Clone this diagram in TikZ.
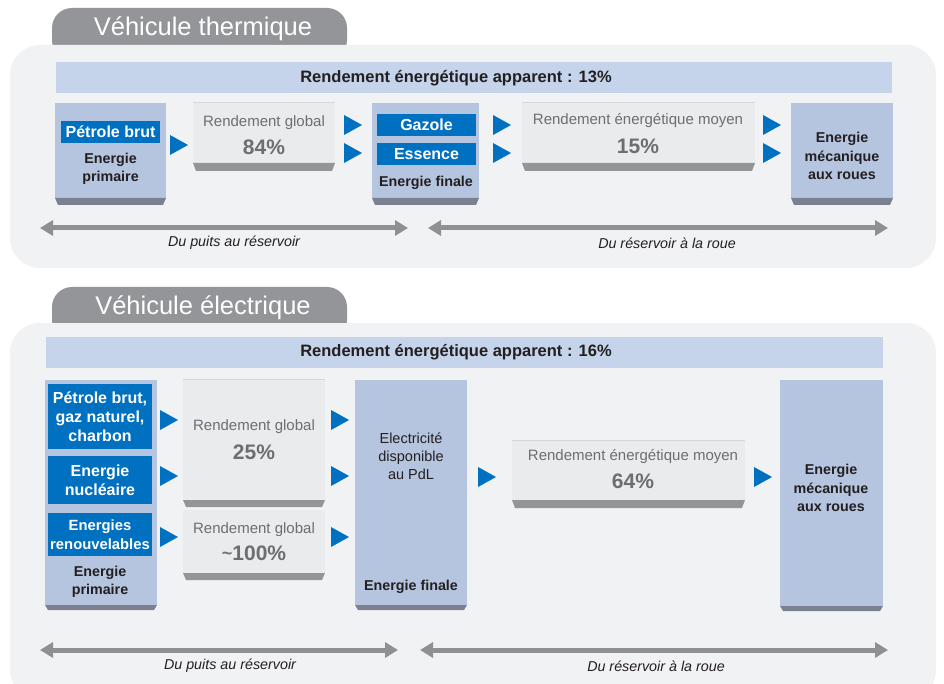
\documentclass[tikz,border=0pt]{standalone}
\usepackage{fontspec}
\setmainfont{Liberation Sans}
\usetikzlibrary{arrows.meta}
\definecolor{tabgray}{HTML}{939598}
\definecolor{panelbg}{HTML}{F1F2F4}
\definecolor{hdrblue}{HTML}{C5D3EB}
\definecolor{boxblue}{HTML}{B6C5DF}
\definecolor{stripdark}{HTML}{7B8190}
\definecolor{labelblue}{HTML}{0070C0}
\definecolor{rgfill}{HTML}{EAEBED}
\definecolor{rgline}{HTML}{D5D6D8}
\definecolor{txtgray}{HTML}{6D6E71}
\definecolor{txtdark}{HTML}{231F20}
\definecolor{arrowgray}{HTML}{8E9093}
\def\bstrip#1#2#3{\fill[#2] (#1.south west) -- (#1.south east) -- ([xshift=-3pt,yshift=-#3pt]#1.south east) -- ([xshift=3pt,yshift=-#3pt]#1.south west) -- cycle;}
\def\tri(#1,#2){\fill[labelblue] (#1-9,#2-10) -- (#1+9,#2) -- (#1-9,#2+10) -- cycle;}
\def\topline#1{\draw[rgline,line width=1pt] (#1.north west) -- (#1.north east);}

\begin{document}
\begin{tikzpicture}[x=1pt,y=-1pt,
  ebox/.style={fill=boxblue,inner sep=0pt,outer sep=0pt,anchor=north west},
  gbox/.style={fill=rgfill,inner sep=0pt,outer sep=0pt,anchor=north west},
  hdr/.style={fill=hdrblue,inner sep=0pt,outer sep=0pt,anchor=north west,minimum height=31pt},
  hdrtxt/.style={text=txtdark,font=\bfseries\fontsize{16.5}{18}\selectfont},
  tabtxt/.style={text=white,font=\fontsize{25.5}{28}\selectfont},
  lbl/.style={fill=labelblue,text=white,inner sep=0pt,align=center,font=\bfseries\fontsize{16}{19}\selectfont},
  dark/.style={text=txtdark,align=center,font=\bfseries\fontsize{14.3}{18.5}\selectfont},
  plain/.style={text=txtdark,align=center,font=\fontsize{14.5}{18}\selectfont},
  gtxt/.style={text=txtgray,font=\fontsize{15}{17}\selectfont},
  gpct/.style={text=txtgray,font=\bfseries\fontsize{21}{22}\selectfont},
  dbl/.style={draw=arrowgray,line width=5pt,{Triangle[length=13pt,width=15pt]}-{Triangle[length=13pt,width=15pt]}},
  ital/.style={text=txtdark,font=\itshape\fontsize{14.3}{16}\selectfont}]
\useasboundingbox (0,0) rectangle (944,684);
\fill[white] (0,0) rectangle (944,684);

% Vehicule thermique
\fill[tabgray,rounded corners=20pt] (52,60) -- (52,8) -- (347,8) -- (347,60) -- cycle;
\fill[panelbg,rounded corners=30pt] (10,45) rectangle (936,268);
\node[tabtxt] (tab1) at (203,29) {Véhicule thermique};
\node[hdr,minimum width=836pt] (hdr1) at (56,62) {};
\node[hdrtxt] (hdr1t) at (456,78) {Rendement énergétique apparent : 13\%};

\node[ebox,minimum width=111pt,minimum height=95pt] (prim1) at (55,103) {};
\bstrip{prim1}{stripdark}{7}
\node[lbl,minimum width=99pt,minimum height=22pt] (petrole1) at (110.5,132) {Pétrole brut};
\node[dark] (prim1t) at (110.5,169) {Energie\\primaire};

\node[gbox,minimum width=142pt,minimum height=60pt] (rg1) at (193,103) {};
\topline{rg1}
\bstrip{rg1}{tabgray}{8}
\node[gtxt] (rg1a) at (264,123) {Rendement global};
\node[gpct] (rg1b) at (264,147) {84\%};

\node[ebox,minimum width=107pt,minimum height=95pt] (fin1) at (372,103) {};
\bstrip{fin1}{stripdark}{7}
\node[lbl,minimum width=99pt,minimum height=22pt] (gazole) at (426.5,125) {Gazole};
\node[lbl,minimum width=99pt,minimum height=22pt] (essence) at (426.5,154) {Essence};
\node[dark] (fin1t) at (426,183) {Energie finale};

\node[gbox,minimum width=233pt,minimum height=60pt] (rm1) at (522,103) {};
\topline{rm1}
\bstrip{rm1}{tabgray}{8}
\node[gtxt] (rm1a) at (638,121) {Rendement énergétique moyen};
\node[gpct] (rm1b) at (638,146) {15\%};

\node[ebox,minimum width=102pt,minimum height=95pt] (mec1) at (791,103) {};
\bstrip{mec1}{stripdark}{7}
\node[dark] (mec1t) at (842,156) {Energie\\mécanique\\aux roues};

\tri(179,145) \tri(353,125) \tri(353,153) \tri(502,125) \tri(502,153) \tri(772,125) \tri(772,153)

\coordinate (a1) at (40,228);
\coordinate (b1) at (408,228);
\coordinate (c1) at (428,228);
\coordinate (d1) at (888,228);
\draw[dbl] (a1) -- (b1);
\draw[dbl] (c1) -- (d1);
\node[ital] (wtt1) at (234,243) {Du puits au réservoir};
\node[ital] (ttw1) at (667,243) {Du réservoir à la roue};

% Vehicule electrique
\fill[tabgray,rounded corners=20pt] (52,340) -- (52,287) -- (347,287) -- (347,340) -- cycle;
\fill[panelbg,rounded corners=30pt] (10,323) rectangle (936,700);
\node[tabtxt] (tab2) at (203,308) {Véhicule électrique};
\node[hdr,minimum width=837pt] (hdr2) at (46,337) {};
\node[hdrtxt] (hdr2t) at (456,352) {Rendement énergétique apparent : 16\%};

\node[ebox,minimum width=112pt,minimum height=225pt] (prim2) at (45,380) {};
\bstrip{prim2}{stripdark}{5}
\node[lbl,minimum width=104pt,minimum height=65pt] (fossile) at (100,416.5) {Pétrole brut,\\gaz naturel,\\charbon};
\node[lbl,minimum width=104pt,minimum height=48pt] (nucl) at (100,480) {Energie\\nucléaire};
\node[lbl,minimum width=104pt,minimum height=43pt,font=\bfseries\fontsize{14.8}{19}\selectfont] (renouv) at (100,534.5) {Energies\\renouvelables};
\node[dark] (prim2t) at (100,582) {Energie\\primaire};

\node[gbox,minimum width=142pt,minimum height=121pt] (rg2) at (183,379) {};
\topline{rg2}
\bstrip{rg2}{tabgray}{7}
\node[gtxt] (rg2a) at (254,427) {Rendement global};
\node[gpct] (rg2b) at (254,452) {25\%};

\node[gbox,minimum width=142pt,minimum height=63pt] (rg3) at (183,510) {};
\bstrip{rg3}{tabgray}{7}
\node[gtxt] (rg3a) at (254,530) {Rendement global};
\node[gpct] (rg3b) at (254,553) {\raisebox{1pt}{\fontsize{18}{18}\selectfont\char`\~}100\%};

\node[ebox,minimum width=112pt,minimum height=225pt] (elec) at (355,380) {};
\bstrip{elec}{stripdark}{5}
\node[plain] (elect) at (411,456) {Electricité\\disponible\\au PdL};
\node[dark] (fin2t) at (411,587) {Energie finale};

\node[gbox,minimum width=233pt,minimum height=60pt] (rm2) at (512,440) {};
\topline{rm2}
\bstrip{rm2}{tabgray}{8}
\node[gtxt] (rm2a) at (633,457) {Rendement énergétique moyen};
\node[gpct] (rm2b) at (633,481) {64\%};

\node[ebox,minimum width=103pt,minimum height=226pt] (mec2) at (780,380) {};
\bstrip{mec2}{stripdark}{5}
\node[dark] (mec2t) at (831,488) {Energie\\mécanique\\aux roues};

\tri(169,420) \tri(169,476) \tri(169,537) \tri(340,420) \tri(340,476) \tri(340,537) \tri(487,477) \tri(763,477)

\coordinate (a2) at (40,650);
\coordinate (b2) at (398,650);
\coordinate (c2) at (420,650);
\coordinate (d2) at (888,650);
\draw[dbl] (a2) -- (b2);
\draw[dbl] (c2) -- (d2);
\node[ital] (wtt2) at (230,666) {Du puits au réservoir};
\node[ital] (ttw2) at (656,666) {Du réservoir à la roue};
\end{tikzpicture}
\end{document}
